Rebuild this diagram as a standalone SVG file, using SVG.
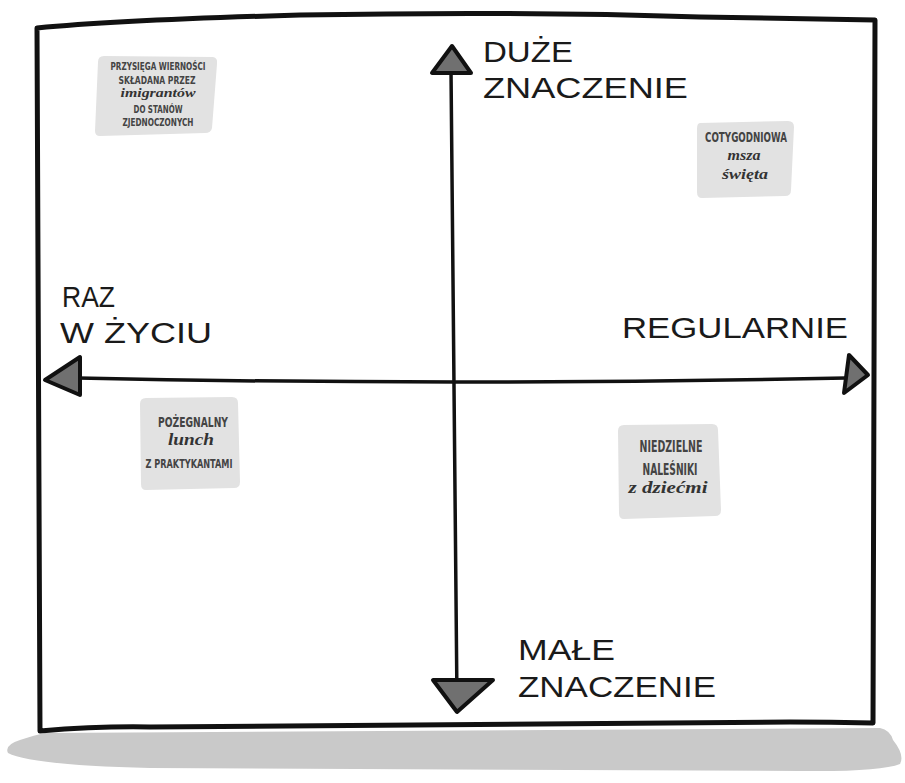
<svg xmlns="http://www.w3.org/2000/svg" width="905" height="783" viewBox="0 0 905 783">
<style>
.frame{fill:none;stroke:#111;stroke-width:5;stroke-linejoin:round;stroke-linecap:round}
.axis{fill:none;stroke:#111;stroke-width:3.5;stroke-linecap:round}
.head{fill:#707070;stroke:#111;stroke-width:4;stroke-linejoin:round}
.note{fill:#e2e2e2}
.lbl{font-family:"Liberation Sans","DejaVu Sans",sans-serif;font-size:29px;fill:#1a1a1a}
.cap{font-family:"DejaVu Sans","Liberation Sans",sans-serif;font-weight:bold;fill:#444;text-anchor:middle}
.scr{font-family:"Liberation Serif","DejaVu Serif",serif;font-style:italic;font-weight:bold;fill:#333;text-anchor:middle}
</style>
<path id="shadow" d="M45 733 L880 728 Q890 730 893 740 Q905 755 900 764 Q880 772 800 771 L150 768 Q30 765 8 753 Q4 745 20 740 Q35 735 45 733 Z" fill="#c9c9c9"/>
<path id="frame" class="frame" d="M37 28 Q120 20 300 15 Q520 11 700 17 L875 20 L873 723 Q830 722 790 722 L150 727 Q100 726 40 731 Z"/>
<g id="connectors">
<path id="axis-v" class="axis" d="M451 70 Q453 380 457 702"/>
<path id="axis-h" class="axis" d="M78 378 Q450 386 846 378"/>
<polygon class="head" points="452,46 432,73 471,73"/>
<polygon class="head" points="457,712 433,680 493,680"/>
<polygon class="head" points="45,380 80,357 80,395"/>
<polygon class="head" points="868,375 849,355 844,393"/>
</g>
<g id="label-top">
<text class="lbl" x="483" y="62" textLength="90" lengthAdjust="spacingAndGlyphs">DUŻE</text>
<text class="lbl" x="483" y="98" textLength="205" lengthAdjust="spacingAndGlyphs">ZNACZENIE</text>
</g>
<g id="label-left">
<text class="lbl" x="62" y="307" textLength="53" lengthAdjust="spacingAndGlyphs">RAZ</text>
<text class="lbl" x="60" y="343" textLength="152" lengthAdjust="spacingAndGlyphs">W ŻYCIU</text>
</g>
<g id="label-right">
<text class="lbl" x="622" y="338" textLength="226" lengthAdjust="spacingAndGlyphs">REGULARNIE</text>
</g>
<g id="label-bottom">
<text class="lbl" x="518" y="660" textLength="97" lengthAdjust="spacingAndGlyphs">MAŁE</text>
<text class="lbl" x="518" y="697" textLength="198" lengthAdjust="spacingAndGlyphs">ZNACZENIE</text>
</g>
<g id="note-oath">
<path class="note" d="M104 56 L213 57 Q218 58 217 64 L212 128 Q211 133 205 133 L100 136 Q95 136 95 131 L98 62 Q98 56 104 56 Z"/>
<text class="cap" x="158" y="70" font-size="10.5" textLength="95" lengthAdjust="spacingAndGlyphs">PRZYSIĘGA WIERNOŚCI</text>
<text class="cap" x="157" y="84" font-size="10.5" textLength="77" lengthAdjust="spacingAndGlyphs">SKŁADANA PRZEZ</text>
<text class="scr" x="158" y="97" font-size="12" textLength="75" lengthAdjust="spacingAndGlyphs">imigrantów</text>
<text class="cap" x="158" y="113" font-size="10.5" textLength="49" lengthAdjust="spacingAndGlyphs">DO STANÓW</text>
<text class="cap" x="158" y="126" font-size="10.5" textLength="71" lengthAdjust="spacingAndGlyphs">ZJEDNOCZONYCH</text>
</g>
<g id="note-mass">
<path class="note" d="M700 123 L788 121 Q794 121 794 127 L791 190 Q791 196 785 196 L702 198 Q697 198 697 192 L697 129 Q697 123 700 123 Z"/>
<text class="cap" x="746" y="142" font-size="14" textLength="82" lengthAdjust="spacingAndGlyphs">COTYGODNIOWA</text>
<text class="scr" x="744" y="160" font-size="14" textLength="33" lengthAdjust="spacingAndGlyphs">msza</text>
<text class="scr" x="745" y="179" font-size="15" textLength="46" lengthAdjust="spacingAndGlyphs">święta</text>
</g>
<g id="note-lunch">
<path class="note" d="M146 398 L232 397 Q238 397 238 403 L240 482 Q240 488 234 488 L146 490 Q141 490 141 484 L140 404 Q140 398 146 398 Z"/>
<text class="cap" x="193" y="427" font-size="14.5" textLength="70" lengthAdjust="spacingAndGlyphs">POŻEGNALNY</text>
<text class="scr" x="191" y="445" font-size="16" textLength="46" lengthAdjust="spacingAndGlyphs">lunch</text>
<text class="cap" x="189" y="468" font-size="11.5" textLength="87" lengthAdjust="spacingAndGlyphs">Z PRAKTYKANTAMI</text>
</g>
<g id="note-pancakes">
<path class="note" d="M624 425 L712 424 Q718 424 718 430 L721 510 Q721 516 715 516 L624 519 Q619 519 619 513 L618 431 Q618 425 624 425 Z"/>
<text class="cap" x="671" y="452" font-size="15.5" textLength="63" lengthAdjust="spacingAndGlyphs">NIEDZIELNE</text>
<text class="cap" x="670" y="475" font-size="15.5" textLength="55" lengthAdjust="spacingAndGlyphs">NALEŚNIKI</text>
<text class="scr" x="668" y="493" font-size="17" textLength="79" lengthAdjust="spacingAndGlyphs">z dziećmi</text>
</g>
</svg>
